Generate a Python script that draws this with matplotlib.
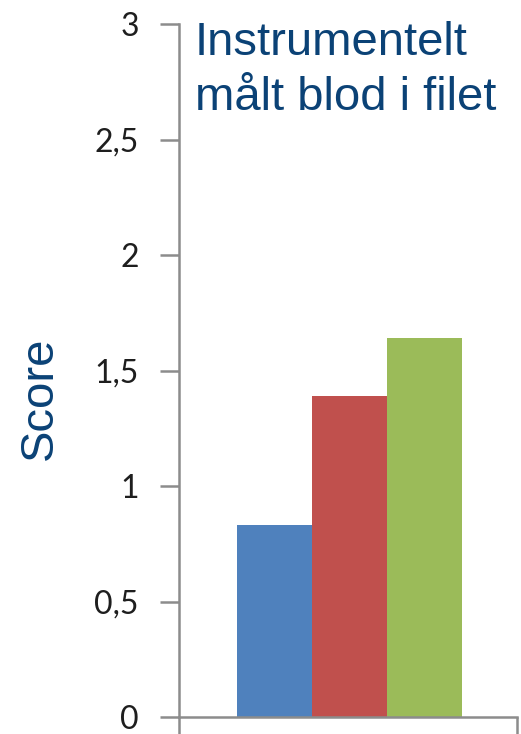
import matplotlib.pyplot as plt

# data
groups = ['A', 'B', 'C']
scores = [0.83, 1.39, 1.64]
bar_colors = ['#4f81bd', '#c0504d', '#9bbb59']
ytick_vals = [0, 0.5, 1, 1.5, 2, 2.5, 3]
ytick_text = ['0', '0,5', '1', '1,5', '2', '2,5', '3']
title = 'Instrumentelt\nmålt blod i filet'

W, H = 521, 734
fig = plt.figure(figsize=(W / 100, H / 100), dpi=100)
ax = fig.add_axes([179 / W, 1 - 717 / H, (517 - 179) / W, (717 - 24) / H])

x = list(range(len(groups)))
ax.bar(x, scores, width=1.0, color=bar_colors, linewidth=0)

ax.set_ylim(0, 3)
ax.set_xlim(-1.28, 3.23)
ax.set_yticks(ytick_vals)
ax.set_yticklabels(ytick_text, fontsize=23, color='#1e1e1e', family='Lato')
ax.set_xticks([-1.28, 3.23])
ax.set_xticklabels(['', ''])

for s in ['top', 'right']:
    ax.spines[s].set_visible(False)
for s in ['left', 'bottom']:
    ax.spines[s].set_color('#8c8c8c')
    ax.spines[s].set_linewidth(1.8)
ax.tick_params(axis='both', direction='out', length=14, width=1.8, color='#8c8c8c', pad=15)

# title and y label
fig.text(195 / W, 1 - 21 / H, title, fontsize=34, color='#0b4276',
         family='Liberation Sans', ha='left', va='top', linespacing=1.32)
fig.text(40 / W, 1 - 398 / H, 'Score', fontsize=34, color='#0b4276',
         family='Liberation Sans', rotation=90, ha='center', va='center')

fig.savefig('out.png', dpi=100)
